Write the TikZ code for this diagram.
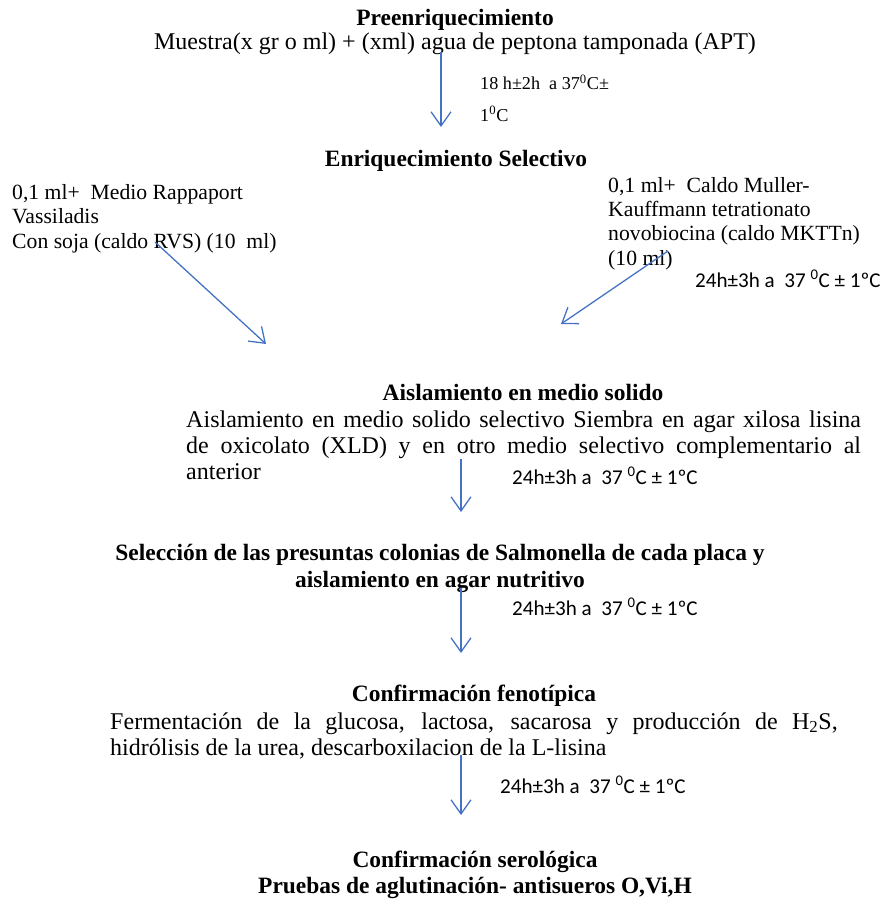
\documentclass[tikz,border=0pt]{standalone}
\usepackage{fontspec}
\setmainfont{Liberation Serif}
\newfontfamily\calibrifont{Carlito}
\usetikzlibrary{arrows.meta}
\pgfdeclarelayer{edgelayer}
\pgfdeclarelayer{nodelayer}
\pgfsetlayers{nodelayer,edgelayer,main}
\definecolor{arrowblue}{RGB}{68,114,196}
\tikzstyle{none} = [inner sep=0pt]
\tikzstyle{heading} = [inner sep=0pt, align=center, font=\fontsize{20}{22.2}\selectfont\bfseries]
\tikzstyle{body} = [inner sep=0pt, font=\fontsize{20.5}{22.6}\selectfont]
\tikzstyle{medio} = [inner sep=0pt, align=left, font=\fontsize{18.5}{20.5}\selectfont]
\tikzstyle{tiempo} = [inner sep=0pt, font=\calibrifont\fontsize{18}{21}\selectfont]
\tikzstyle{new edge style 0}=[draw=arrowblue, line width=1.1pt, -{Straight Barb[length=12pt,width=17pt,line width=1.1pt]}]

\begin{document}
\begin{tikzpicture}[x=0.03cm, y=-0.03cm]
	\useasboundingbox (0,0) rectangle (893,901);
	\begin{pgfonlayer}{nodelayer}
		\node [style=heading, anchor=base] (0) at (455,26) {Preenriquecimiento};
		\node [style=body, anchor=base] (1) at (455,50) {Muestra(x gr o ml) + (xml) agua de peptona tamponada (APT)};
		\node [style=none, anchor=base west, align=left, font=\fontsize{15.5}{26.5}\selectfont] (2) at (480,121) {18 h±2h\ \ a 37\textsuperscript{0}C±\\1\textsuperscript{0}C};
		\node [style=heading, anchor=base] (3) at (456,167) {Enriquecimiento Selectivo};
		\node [style=medio, anchor=base west] (4) at (12,248) {0,1 ml+\ \ Medio Rappaport\\Vassiladis\\Con soja (caldo RVS) (10\ \ ml)};
		\node [style=medio, anchor=base west] (5) at (608,265) {0,1 ml+\ \ Caldo Muller-\\Kauffmann tetrationato\\novobiocina (caldo MKTTn)\\(10 ml)};
		\node [style=tiempo, anchor=base west] (6) at (695,287) {24h±3h a\ \ 37 \textsuperscript{0}C ± 1ºC};
		\node [style=heading, anchor=base] (7) at (523,400) {Aislamiento en medio solido};
		\node [style=body, anchor=base west, text width=576pt, align=justify] (8) at (186,427) {Aislamiento en medio solido selectivo Siembra en agar xilosa lisina\linebreak de oxicolato (XLD) y en otro medio selectivo complementario al\linebreak anterior};
		\node [style=tiempo, anchor=base west] (9) at (512,484) {24h±3h a\ \ 37 \textsuperscript{0}C ± 1ºC};
		\node [style=heading, anchor=base] (10) at (440,587) {Selección de las presuntas colonias de Salmonella de cada placa y\\aislamiento en agar nutritivo};
		\node [style=tiempo, anchor=base west] (11) at (512,615) {24h±3h a\ \ 37 \textsuperscript{0}C ± 1ºC};
		\node [style=heading, anchor=base] (12) at (474,701) {Confirmación fenotípica};
		\node [style=body, anchor=base west, text width=621pt, align=justify] (13) at (110,729) {Fermentación de la glucosa, lactosa, sacarosa y producción de H\textsubscript{2}S,\linebreak hidrólisis de la urea, descarboxilacion de la L-lisina};
		\node [style=tiempo, anchor=base west] (14) at (500,793) {24h±3h a\ \ 37 \textsuperscript{0}C ± 1ºC};
		\node [style=heading, anchor=base] (15) at (475,893) {Confirmación serológica\\Pruebas de aglutinación- antisueros O,Vi,H};
		\node [style=none] (20) at (441,52) {};
		\node [style=none] (21) at (441,127) {};
		\node [style=none] (22) at (155,242) {};
		\node [style=none] (23) at (266,344) {};
		\node [style=none] (24) at (668,251) {};
		\node [style=none] (25) at (561,324) {};
		\node [style=none] (26) at (461,459) {};
		\node [style=none] (27) at (461,512) {};
		\node [style=none] (28) at (461,588) {};
		\node [style=none] (29) at (461,653) {};
		\node [style=none] (30) at (461,755) {};
		\node [style=none] (31) at (461,815) {};
	\end{pgfonlayer}
	\begin{pgfonlayer}{edgelayer}
		\draw [style=new edge style 0] (20.center) to (21.center);
		\draw [style=new edge style 0] (22.center) to (23.center);
		\draw [style=new edge style 0] (24.center) to (25.center);
		\draw [style=new edge style 0] (26.center) to (27.center);
		\draw [style=new edge style 0] (28.center) to (29.center);
		\draw [style=new edge style 0] (30.center) to (31.center);
	\end{pgfonlayer}
\end{tikzpicture}
\end{document}
